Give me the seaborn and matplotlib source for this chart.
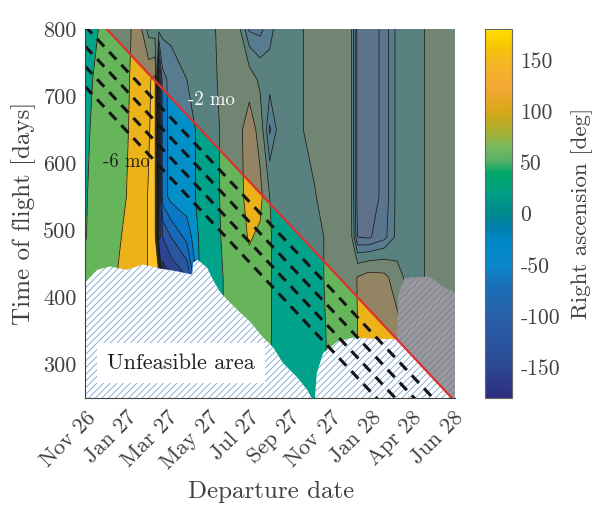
import numpy as np
import matplotlib
matplotlib.use("Agg")
import matplotlib.pyplot as plt
import seaborn as sns
from matplotlib.colors import LinearSegmentedColormap, Normalize
from matplotlib.cm import ScalarMappable
from matplotlib.patches import Polygon
from matplotlib.transforms import ScaledTranslation

# grid of the right ascension map
dep_days = [0, 12, 30, 55, 70, 85, 100, 110, 116, 122, 135, 160, 180, 200, 215, 240, 258,
            275, 290, 305, 330, 360, 380, 400, 418, 428, 445, 470, 490, 510, 530, 550, 581]
tof_days = [250, 350, 430, 490, 550, 650, 725, 800]

ra_250 = [60, 62, 70, 95, 110, 125, 140, 150, 150, -170, -140, -110, 0, 25, 38, 60, 65,
          60, 40, 20, 15, 20, 40, 65, 75, 90, 115, 120, 110, 60, 35, 65, 70]
ra_350 = [60, 62, 70, 95, 110, 125, 140, 150, 150, -170, -140, -110, 0, 25, 38, 60, 65,
          60, 45, 20, 15, 20, 42, 65, 75, 90, 115, 120, 110, 60, 35, 65, 70]
ra_430 = [58, 62, 70, 95, 110, 125, 142, 152, 158, -170, -150, -120, 0, 25, 38, 65, 70,
          65, 45, 20, 15, 25, 45, 65, 75, 92, 112, 105, 60, 20, 35, 65, 70]
ra_490 = [36, 56, 66, 88, 102, 125, 142, 152, -170, -120, -90, -50, 5, 25, 42, 65, 95,
          80, 45, 20, 15, 25, 45, 65, 50, -60, -65, -40, 10, 20, 35, 65, 70]
ra_550 = [33, 55, 62, 80, 95, 125, 142, 152, -170, -45, -20, -10, 5, 25, 45, 65, 115,
          105, 40, 20, 20, 35, 65, 65, 45, -75, -80, -50, 10, 20, 35, 65, 70]
ra_650 = [25, 48, 60, 75, 92, 120, 138, 150, -170, -45, -20, -10, 5, 25, 45, 70, 120,
          70, -35, 15, 25, 60, 65, 65, 45, -75, -80, -50, 10, 20, 35, 65, 70]
ra_725 = [20, 40, 60, 70, 90, 120, 135, 150, -170, -40, -20, 0, 15, 30, 50, 65, 65,
          30, 15, 15, 25, 60, 65, 65, 45, -75, -80, -50, 10, 20, 35, 65, 70]
ra_800 = [15, 25, 55, 65, 85, 115, 20, 15, 10, 10, 10, 5, 15, 30, 60, 60, -35,
          -40, -10, 15, 25, 60, 65, 65, 45, -75, -80, -50, 10, 20, 35, 65, 70]

# lower edge of the feasible region
unf_x = [0, 19, 39, 66, 91, 113, 149, 168, 170, 177, 192, 201, 212, 228, 243, 259, 279,
         295, 311, 333, 349, 356, 361, 364, 374, 396, 421, 458, 490, 492, 502, 541, 562, 581]
unf_y = [422, 441, 446, 441, 449, 444, 438, 434, 452, 456, 444, 426, 408, 392, 378, 364, 341,
         326, 302, 281, 262, 250, 250, 287, 317, 334, 340, 338, 338, 404, 429, 431, 416, 407]

# latest arrival line and the earlier arrival lines (days before it)
red_x = [34, 576]
red_y = [800, 250]
arrival_offsets = [30, 60, 90, 120]

tick_days = [0, 64, 128, 192, 256, 320, 384, 448, 512, 576]
tick_labels = ["Nov 26", "Jan 27", "Mar 27", "May 27", "Jul 27", "Sep 27",
               "Nov 27", "Jan 28", "Apr 28", "Jun 28"]
tof_ticks = [300, 400, 500, 600, 700, 800]
cbar_ticks = [-150, -100, -50, 0, 50, 100, 150]
cbar_labels = ["-150", "-100", "-50", "0", "50", "100", "150"]

ra_levels = [-180, -150, -120, -90, -60, -30, 0, 40, 90, 140, 160, 180]
band_colors = ["#2B2F80", "#2C4492", "#2A56A2", "#1A68B8", "#0A78C6", "#038FC8",
               "#00A38A", "#66B55A", "#EBB21A", "#FCC32A", "#FBD530"]

cbar_vals = [-180, -150, -125, -100, -70, -50, -30, -12, 0, 20, 40, 50, 65, 80, 100, 125, 150, 165, 180]
cbar_colors = ["#2D2E7E", "#2D4892", "#2B55A0", "#2860A8", "#1B70B8", "#0A88CC", "#0088C8",
               "#0080A8", "#008A8E", "#009E84", "#00A868", "#50B068", "#78B860", "#A8B030",
               "#D8A818", "#F5A838", "#F4B820", "#F8C800", "#FFE000"]

sns.set_theme(style="ticks")
plt.rcParams["font.family"] = ["cmr10", "DejaVu Serif"]
plt.rcParams["mathtext.fontset"] = "cm"
plt.rcParams["axes.unicode_minus"] = False
plt.rcParams["axes.formatter.use_mathtext"] = False
plt.rcParams["hatch.linewidth"] = 0.6
txt = "#404040"

fig = plt.figure(figsize=(5.96, 5.07), dpi=100)
ax = fig.add_axes([85 / 596, 109 / 507, 370 / 596, 369 / 507])
cax = fig.add_axes([485 / 596, 109 / 507, 27 / 596, 369 / 507])

X, Y = np.meshgrid(dep_days, tof_days)
Z = np.array([ra_250, ra_350, ra_430, ra_490, ra_550, ra_650, ra_725, ra_800])

ax.contourf(X, Y, Z, levels=ra_levels, colors=band_colors, zorder=1)

# unfeasible area
ax.fill_between(unf_x, 250, unf_y, facecolor="white", edgecolor="#7BA3CC",
                hatch="/////", linewidth=0, zorder=2)

# grey veil after the latest arrival date
veil = Polygon([(red_x[0], 800), (581, 800), (581, 250), (red_x[1], 250)],
               closed=True, facecolor="#76767C", alpha=0.75, lw=0, zorder=3)
ax.add_patch(veil)

cs = ax.contour(X, Y, Z, levels=ra_levels[1:-1], colors="k", linewidths=0.55,
                negative_linestyles="solid", zorder=4)
feasible = Polygon(list(zip(unf_x, unf_y)) + [(581, 800), (0, 800)], closed=True,
                   transform=ax.transData)
cs.set_clip_path(feasible)

coef = np.polyfit(red_x, red_y, 1)
xs = np.array([0, 581])
for off in arrival_offsets:
    ax.plot(xs, np.polyval(coef, xs) - off, color="#151515", lw=2.2,
            linestyle=(0, (3.4, 2.4)), zorder=5)
ax.plot(red_x, red_y, color="#DD3030", lw=1.6, zorder=6)

ax.text(162, 694, "-2 mo", color="white", fontsize=13.5, va="center", zorder=7)
ax.text(28, 601, "-6 mo", color="#202020", fontsize=13.5, va="center", zorder=7)
ax.text(151, 302, "Unfeasible area", color="#202020", fontsize=16, ha="center", va="center",
        zorder=7, bbox=dict(boxstyle="square,pad=0.45", facecolor="white", edgecolor="none"))

ax.set_xlim(0, 581)
ax.set_ylim(250, 800)
ax.set_xticks(tick_days)
ax.set_xticklabels(tick_labels, rotation=45, ha="right", va="center", rotation_mode="anchor")
ax.set_yticks(tof_ticks)
ax.tick_params(direction="in", length=4, width=0.6, color="#555555", labelsize=16,
               labelcolor=txt, pad=6)
ax.tick_params(axis="x", pad=12)
shift = ScaledTranslation(8 / 100, 0, fig.dpi_scale_trans)
for lab in ax.get_xticklabels():
    lab.set_transform(lab.get_transform() + shift)
for side in ["top", "right"]:
    ax.spines[side].set_visible(False)
for side in ["left", "bottom"]:
    ax.spines[side].set_color("#404040")
    ax.spines[side].set_linewidth(0.8)
    ax.spines[side].set_zorder(8)

ax.set_xlabel("Departure date", fontsize=18, color=txt)
ax.set_ylabel("Time of flight [days]", fontsize=18, color=txt)
ax.xaxis.set_label_coords(0.503, -0.225)
ax.yaxis.set_label_coords(-0.132, 0.5)

cmap = LinearSegmentedColormap.from_list(
    "ra", [((v + 180) / 360, c) for v, c in zip(cbar_vals, cbar_colors)])
sm = ScalarMappable(norm=Normalize(-180, 180), cmap=cmap)
cb = fig.colorbar(sm, cax=cax)
cb.set_ticks(cbar_ticks)
cb.set_ticklabels(cbar_labels)
cb.ax.tick_params(direction="in", length=4, width=0.6, color="#555555", labelsize=15.5,
                  labelcolor=txt, pad=6)
cb.outline.set_edgecolor("#666666")
cb.outline.set_linewidth(0.8)
cb.set_label("Right ascension [deg]", fontsize=16.5, color=txt)
cb.ax.yaxis.set_label_coords(3.2, 0.5)

fig.savefig("out.png", dpi=100)
